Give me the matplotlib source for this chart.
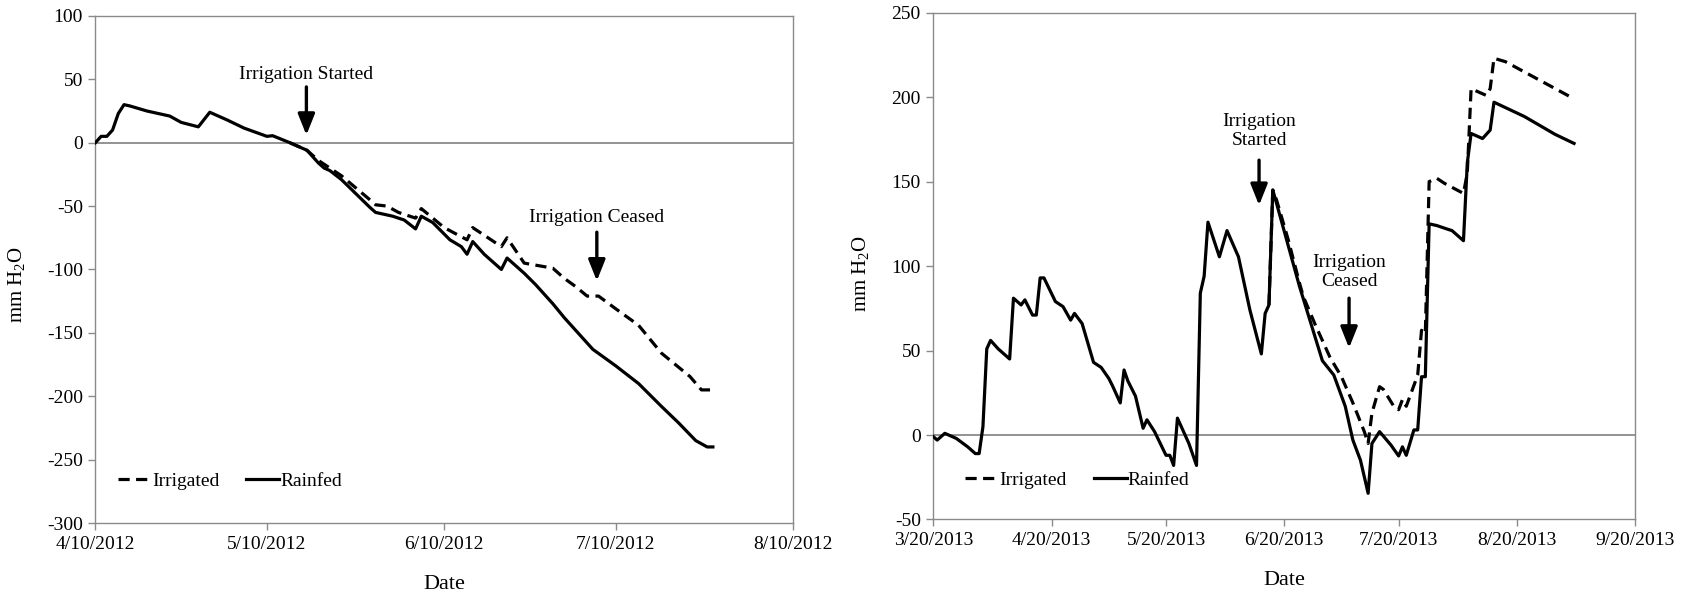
import numpy as np
import pandas as pd
import matplotlib
matplotlib.use("Agg")
import matplotlib.pyplot as plt
import matplotlib.dates as mdates
from matplotlib.lines import Line2D

plt.rcParams["font.family"] = ["Liberation Serif", "DejaVu Serif"]
plt.rcParams["mathtext.fontset"] = "custom"
plt.rcParams["mathtext.rm"] = "Liberation Serif"
plt.rcParams["axes.unicode_minus"] = False

# 2012 season, days counted from 4/10/2012
start_2012 = "2012-04-10"
rain12_day = [0, 1, 2, 3, 4, 5, 6, 9, 13, 15, 18, 20, 23, 26, 30, 31, 34, 37, 39, 40,
              41, 43, 48, 49, 51, 52, 54, 56, 57, 59, 62, 64, 65, 66, 68, 71, 72, 75,
              77, 80, 82, 85, 87, 91, 95, 99, 102, 105, 107, 108]
rain12_mm = [0, 5, 5, 10, 23, 30, 29, 25, 21, 16, 12.5, 24, 18, 11.5, 5, 5.5, 0, -6, -16, -20,
             -22, -29, -51, -55, -57, -58, -61, -68, -58, -63, -76.6, -82, -88, -78, -88, -100, -91, -103,
             -112, -127, -138, -153, -163, -176, -190, -208, -221, -235, -240, -240]
irr12_day = [34, 37, 39, 40, 41, 43, 48, 49, 51, 53, 56, 57, 61, 65, 66, 71, 72, 75, 80,
             82, 84, 86, 88, 91, 95, 99, 104, 106, 108]
irr12_mm = [0, -6, -14, -17, -20, -26, -45, -49, -50, -55, -59.5, -52, -67, -76.6, -67, -82, -75, -95, -99,
            -107, -113.5, -121, -121, -131, -144, -166, -184.5, -195, -195]
ticks_2012 = ["2012-04-10", "2012-05-10", "2012-06-10", "2012-07-10", "2012-08-10"]

# 2013 season, days counted from 3/20/2013
start_2013 = "2013-03-20"
rain13_day = [0, 1, 3, 6, 9, 11, 12, 13, 14, 15, 17, 20, 21, 23, 24, 26, 27, 28, 29, 32,
              34, 36, 37, 39, 42, 44, 46, 47, 49, 50, 51, 53, 55, 56, 58, 61, 62, 63, 64, 67,
              69, 70, 71, 72, 75, 77, 80, 83, 86, 87, 88, 89, 90, 96, 102, 105, 108, 110, 112, 114,
              115, 117, 120, 122, 123, 124, 126, 127, 128, 129, 130, 132, 135, 136, 139, 140, 141, 143, 144, 146,
              147, 155, 163, 168]
rain13_mm = [-1, -3, 1, -2, -7, -11, -11, 5, 51, 56, 51, 45, 81, 77, 80, 71, 71, 93, 93, 79,
             76, 68, 72, 66, 43, 40, 33.5, 29, 19, 38.5, 32, 23, 4, 9, 2, -12, -12, -18, 10, -5,
             -18, 84, 94, 126, 105.5, 121, 105.5, 74, 48, 72, 77, 145, 137, 88, 44, 35.5, 17, -3, -15, -34.5,
             -5, 2, -6, -12.4, -7, -12, 3, 3, 34.5, 34.5, 125, 124, 121.7, 121, 115, 161, 178.5, 176.5, 175.5, 180.5,
             197, 188.5, 178, 172.6]
irr13_day = [88, 89, 90, 93, 96, 97, 100, 104, 107, 110, 113, 114, 115, 117, 118, 121, 122, 123, 124,
             127, 128, 129, 130, 132, 134, 139, 140, 141, 143, 145, 146, 147, 150, 168]
irr13_mm = [77, 145, 139, 116, 90, 82, 66, 46, 34.5, 19, 2, -5, 13, 28.6, 27, 16, 15, 21, 17,
            35.5, 62, 60, 150, 152, 149, 143, 155, 205, 203, 201, 205, 223, 221, 199]
ticks_2013 = ["2013-03-20", "2013-04-20", "2013-05-20", "2013-06-20", "2013-07-20",
              "2013-08-20", "2013-09-20"]


def to_dates(start, days):
    return pd.Timestamp(start) + pd.to_timedelta(days, unit="D")


def mdy(x, pos=None):
    d = mdates.num2date(x)
    return f"{d.month}/{d.day}/{d.year}"


grey = "#8a8a8a"
lw = 2.3
fs = 14


def style_axes(ax, ticks, ylim, yticks):
    tick_dates = pd.to_datetime(ticks)
    ax.set_xlim(tick_dates[0], tick_dates[-1])
    ax.set_xticks(tick_dates)
    ax.xaxis.set_major_formatter(plt.FuncFormatter(mdy))
    ax.set_ylim(*ylim)
    ax.set_yticks(yticks)
    for s in ax.spines.values():
        s.set_color(grey)
        s.set_linewidth(1.0)
    ax.tick_params(direction="out", length=5, width=1, color=grey,
                   labelsize=fs, pad=4)
    ax.axhline(0, color=grey, lw=1.3, zorder=1)
    ax.set_xlabel("Date", fontsize=16, labelpad=16)
    ax.set_ylabel("mm H$_2$O", fontsize=15)


def draw_legend(ax, x, y):
    handles = [Line2D([], [], color="black", lw=lw, dashes=(3.5, 2)),
               Line2D([], [], color="black", lw=lw)]
    ax.legend(handles, ["Irrigated", "Rainfed"], loc="center left",
              bbox_to_anchor=(x, y), ncol=2, frameon=False, fontsize=fs,
              handlelength=1.7, handletextpad=0.05, columnspacing=1.4,
              borderpad=0, borderaxespad=0)


def mark(ax, day, tip, tail, label_y, label):
    ax.annotate("", xy=(day, tip), xytext=(day, tail),
                arrowprops=dict(arrowstyle="-|>,head_width=0.3,head_length=0.75",
                                color="black", lw=2.4, mutation_scale=17,
                                shrinkA=0, shrinkB=0))
    ax.text(day, label_y, label, ha="center", va="center", fontsize=fs,
            linespacing=1.15)


fig = plt.figure(figsize=(16.86, 5.98), dpi=100)
ax1 = fig.add_axes([0.0566, 0.1254, 0.4137, 0.848])
ax2 = fig.add_axes([0.5536, 0.1313, 0.4162, 0.8475])

# 2012 panel
ax1.plot(to_dates(start_2012, irr12_day), irr12_mm, color="black", lw=lw,
         dashes=(3.5, 2), zorder=3)
ax1.plot(to_dates(start_2012, rain12_day), rain12_mm, color="black", lw=lw, zorder=4)
style_axes(ax1, ticks_2012, (-300, 100), np.arange(-300, 101, 50))
ax1.yaxis.set_label_coords(-0.097, 0.47)
draw_legend(ax1, 0.032, 0.083)
mark(ax1, to_dates(start_2012, [36.9])[0], 6, 44, 53.5, "Irrigation Started")
mark(ax1, to_dates(start_2012, [87.7])[0], -109, -70.6, -58.8, "Irrigation Ceased")

# 2013 panel
ax2.plot(to_dates(start_2013, irr13_day), irr13_mm, color="black", lw=lw,
         dashes=(3.5, 2), zorder=3)
ax2.plot(to_dates(start_2013, rain13_day), rain13_mm, color="black", lw=lw, zorder=4)
style_axes(ax2, ticks_2013, (-50, 250), np.arange(-50, 251, 50))
ax2.yaxis.set_label_coords(-0.087, 0.485)
draw_legend(ax2, 0.045, 0.078)
mark(ax2, to_dates(start_2013, [85.4])[0], 136, 162.7, 180, "Irrigation\nStarted")
mark(ax2, to_dates(start_2013, [109])[0], 51.5, 81, 96.5, "Irrigation\nCeased")

fig.savefig("out.png", dpi=100)
